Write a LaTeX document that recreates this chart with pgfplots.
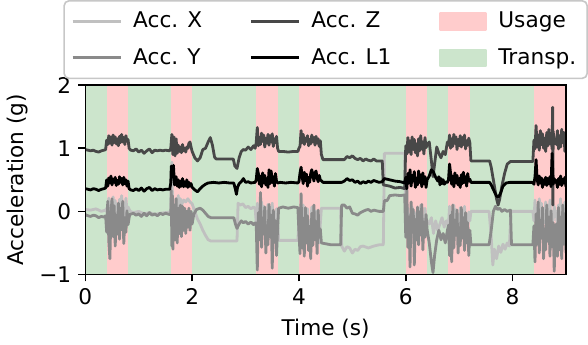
\documentclass[border=0pt]{standalone}
\usepackage{fontspec}
\setmainfont{DejaVu Sans}
\usepackage{pgfplots}
\pgfplotsset{compat=1.18}

\definecolor{usage}{RGB}{255,204,204}
\definecolor{transp}{RGB}{204,229,204}
\definecolor{accx}{RGB}{192,192,192}
\definecolor{accy}{RGB}{138,138,138}
\definecolor{accz}{RGB}{72,72,72}

\begin{document}
\begin{tikzpicture}[font=\fontsize{10.8}{13}\selectfont]
\begin{axis}[
  scale only axis,
  width=240pt, height=94.5pt,
  xmin=0, xmax=9, ymin=-1, ymax=2,
  xtick={0,2,4,6,8}, xticklabels={0,2,4,6,8},
  ytick={-1,0,1,2}, yticklabels={−1,0,1,2},
  tick align=outside, tick pos=left,
  major tick length=3.5pt,
  every tick/.style={black, line width=0.8pt},
  axis line style={line width=0.8pt},
  xlabel={Time (s)}, ylabel={Acceleration (g)},
  ylabel shift=-1pt,
  axis on top,
  every axis plot/.append style={line width=1.4pt, line join=round},
  legend image code/.code={\draw[#1] (0pt,0pt) -- (24pt,0pt);},
  legend columns=3,
  legend cell align=left,
  legend style={
    at={(0.5,1)}, anchor=south, yshift=3pt,
    draw=black!22, line width=0.8pt, rounded corners=2.5pt, fill=white,
    inner xsep=3.5pt, inner ysep=3.5pt, row sep=5pt,
    /tikz/every odd column/.append style={column sep=3.5pt},
    /tikz/every even column/.append style={column sep=21.5pt},
  },
]
% legend, filled column by column as in the original
\addlegendimage{accx, line width=1.5pt}
\addlegendentry{Acc. X}
\addlegendimage{accz, line width=1.5pt}
\addlegendentry{Acc. Z}
\addlegendimage{legend image code/.code={\fill[usage, sharp corners] (0pt,-4pt) rectangle (23pt,4pt);}}
\addlegendentry{Usage}
\addlegendimage{accy, line width=1.5pt}
\addlegendentry{Acc. Y}
\addlegendimage{black, line width=1.5pt}
\addlegendentry{Acc. L1}
\addlegendimage{legend image code/.code={\fill[transp, sharp corners] (0pt,-4pt) rectangle (23pt,4pt);}}
\addlegendentry{Transp.}

% background phases
\addplot[fill=transp, draw=none, forget plot] coordinates {(0,-1) (0,2) (9,2) (9,-1)} -- cycle;
\addplot[fill=usage, draw=none, forget plot] coordinates {(0.4,-1) (0.4,2) (0.8,2) (0.8,-1)} -- cycle;
\addplot[fill=usage, draw=none, forget plot] coordinates {(1.6,-1) (1.6,2) (2.0,2) (2.0,-1)} -- cycle;
\addplot[fill=usage, draw=none, forget plot] coordinates {(3.2,-1) (3.2,2) (3.6,2) (3.6,-1)} -- cycle;
\addplot[fill=usage, draw=none, forget plot] coordinates {(4.0,-1) (4.0,2) (4.4,2) (4.4,-1)} -- cycle;
\addplot[fill=usage, draw=none, forget plot] coordinates {(6.0,-1) (6.0,2) (6.4,2) (6.4,-1)} -- cycle;
\addplot[fill=usage, draw=none, forget plot] coordinates {(6.8,-1) (6.8,2) (7.2,2) (7.2,-1)} -- cycle;
\addplot[fill=usage, draw=none, forget plot] coordinates {(8.4,-1) (8.4,2) (9.0,2) (9.0,-1)} -- cycle;

% Acc. X
\addplot[accx, forget plot] coordinates {
(0,0.03)(0.1,0.02)(0.2,0.04)(0.3,0.0)(0.38,0.02)
(0.40,0.05)(0.42,-0.11)(0.44,0.21)(0.46,-0.07)(0.48,0.15)(0.50,-0.13)(0.52,0.23)(0.54,-0.03)(0.56,0.17)(0.58,-0.09)(0.60,0.09)(0.62,-0.15)(0.64,0.19)(0.66,-0.05)(0.68,0.25)(0.70,-0.01)(0.72,0.13)(0.74,-0.11)(0.76,0.21)(0.78,0.01)(0.80,0.07)
(0.84,0.0)(0.9,-0.02)(1.0,0.0)(1.1,-0.04)(1.2,-0.02)(1.3,-0.05)(1.4,-0.03)(1.5,-0.02)(1.58,-0.01)
(1.60,0.0)(1.61,0.55)(1.62,0.78)(1.63,0.3)(1.64,-0.45)(1.66,0.1)(1.68,-0.3)(1.70,0.2)(1.72,-0.1)(1.74,0.25)(1.76,0.0)(1.78,0.2)(1.80,0.1)(1.84,0.18)(1.88,0.15)(1.92,0.2)(1.96,0.15)(2.00,0.12)
(2.05,0.0)(2.1,-0.12)(2.15,-0.2)(2.2,-0.3)(2.25,-0.38)(2.3,-0.45)(2.35,-0.47)(2.84,-0.47)(2.86,0.13)(2.9,0.1)(2.95,0.12)(3.0,0.06)(3.05,0.08)(3.1,0.04)(3.15,0.07)(3.18,0.04)
(3.20,-0.17)(3.22,0.13)(3.24,-0.26)(3.26,0.02)(3.28,-0.21)(3.30,0.15)(3.32,-0.12)(3.34,0.08)(3.36,-0.3)(3.38,-0.01)(3.40,-0.19)(3.42,0.11)(3.44,-0.23)(3.46,0.06)(3.48,-0.14)(3.50,0.13)(3.52,-0.28)(3.54,-0.03)(3.56,-0.17)(3.58,0.04)(3.60,-0.1)
(3.62,-0.46)(3.8,-0.46)(3.98,-0.46)
(4.00,-0.14)(4.02,-0.5)(4.04,-0.02)(4.06,-0.32)(4.08,0.1)(4.10,-0.41)(4.12,-0.08)(4.14,-0.26)(4.16,0.04)(4.18,-0.47)(4.20,-0.17)(4.22,-0.38)(4.24,0.07)(4.26,-0.29)(4.28,-0.05)(4.30,-0.44)(4.32,0.01)(4.34,-0.35)(4.36,-0.11)(4.38,-0.5)(4.40,-0.2)
(4.42,0.05)(4.6,0.05)(4.78,0.05)(4.8,-0.55)(4.85,-0.63)(4.9,-0.56)(4.95,-0.58)(5.0,-0.66)(5.05,-0.6)(5.1,-0.62)(5.15,-0.56)(5.2,-0.55)(5.3,-0.58)(5.4,-0.55)(5.5,-0.53)(5.58,-0.53)(5.6,0.92)(5.8,0.92)(5.98,0.92)
(6.00,-0.18)(6.02,-0.4)(6.04,0.05)(6.06,-0.34)(6.08,-0.04)(6.10,-0.42)(6.12,0.07)(6.14,-0.29)(6.16,-0.01)(6.18,-0.37)(6.20,-0.12)(6.22,-0.45)(6.24,0.02)(6.26,-0.31)(6.28,0.1)(6.30,-0.26)(6.32,-0.07)(6.34,-0.4)(6.36,0.05)(6.38,-0.23)(6.40,-0.15)
(6.44,-0.2)(6.48,-0.1)(6.52,-0.35)(6.56,-0.15)(6.6,-0.3)(6.64,-0.2)(6.68,-0.1)(6.72,-0.25)(6.76,-0.15)
(6.80,-0.22)(6.82,0.08)(6.84,-0.31)(6.86,-0.04)(6.88,-0.26)(6.90,0.1)(6.92,-0.17)(6.94,0.03)(6.96,-0.35)(6.98,-0.06)(7.00,-0.24)(7.02,0.06)(7.04,-0.28)(7.06,0.01)(7.08,-0.19)(7.10,0.08)(7.12,-0.33)(7.14,-0.08)(7.16,-0.22)(7.18,-0.01)(7.20,-0.15)
(7.22,0.0)(7.56,0.0)(7.6,-0.4)(7.63,-0.85)(7.66,-0.6)(7.7,-0.75)(7.74,-0.55)(7.78,-0.65)(7.82,-0.52)(7.86,-0.6)(7.9,-0.5)(7.94,-0.55)(7.97,0.0)(8.38,0.0)
(8.40,-0.15)(8.42,0.18)(8.44,-0.25)(8.46,0.05)(8.48,-0.2)(8.50,0.2)(8.52,-0.1)(8.54,0.13)(8.56,-0.3)(8.58,0.03)(8.60,-0.18)(8.62,0.15)(8.64,-0.23)(8.66,0.1)(8.68,-0.13)(8.70,0.18)(8.72,-0.28)(8.74,0.0)(8.76,-0.15)(8.78,0.08)(8.80,-0.08)(8.82,0.0)(8.84,-0.3)(8.86,0.1)(8.88,-0.15)(8.90,0.2)(8.92,-0.23)(8.94,0.05)(8.96,-0.1)(8.98,0.15)(9.00,-0.28)
};

% Acc. Y
\addplot[accy, forget plot] coordinates {
(0,-0.05)(0.05,-0.07)(0.1,-0.08)(0.15,-0.06)(0.2,-0.07)(0.25,-0.1)(0.3,-0.08)(0.35,-0.09)(0.38,-0.07)
(0.40,-0.33)(0.42,0.16)(0.44,-0.48)(0.46,-0.75)(0.48,-0.03)(0.50,0.2)(0.52,-0.4)(0.54,0.09)(0.56,-0.55)(0.58,-0.06)(0.60,-0.36)(0.62,0.13)(0.64,-0.44)(0.66,0.05)(0.68,-0.29)(0.70,0.16)(0.72,-0.51)(0.74,-0.1)(0.76,-0.33)(0.78,0.01)(0.80,-0.21)
(0.83,-0.05)(0.9,-0.03)(0.95,-0.06)(1.0,-0.04)(1.05,-0.08)(1.1,-0.03)(1.15,-0.07)(1.2,-0.02)(1.25,-0.06)(1.3,-0.04)(1.35,-0.07)(1.4,-0.03)(1.45,-0.05)(1.5,-0.03)(1.58,-0.05)
(1.60,-0.05)(1.61,0.33)(1.62,-0.55)(1.63,0.25)(1.64,-0.6)(1.66,0.1)(1.68,-0.45)(1.70,0.2)(1.72,-0.5)(1.74,0.05)(1.76,-0.35)(1.78,0.1)(1.80,-0.4)(1.82,0.08)(1.84,-0.3)(1.86,0.05)(1.88,-0.35)(1.90,0.0)(1.92,-0.25)(1.94,0.05)(1.96,-0.3)(1.98,0.0)(2.00,-0.2)
(2.03,-0.05)(2.08,0.03)(2.15,0.05)(2.2,0.02)(2.25,-0.03)(2.3,-0.08)(2.35,-0.1)(2.78,-0.1)(2.81,-0.2)(2.84,-0.27)(2.88,-0.2)(2.92,-0.15)(2.96,-0.18)(3.0,-0.16)(3.05,-0.2)(3.1,-0.17)(3.15,-0.21)(3.18,-0.18)
(3.20,-0.19)(3.22,-0.93)(3.24,-0.02)(3.26,-0.45)(3.28,0.3)(3.30,-0.57)(3.32,-0.11)(3.34,-0.36)(3.36,0.07)(3.38,-0.66)(3.40,-0.23)(3.42,-0.53)(3.44,0.11)(3.46,-0.4)(3.48,-0.06)(3.50,-0.9)(3.52,0.02)(3.54,-0.49)(3.56,-0.15)(3.58,-0.7)(3.60,-0.28)
(3.62,0.05)(3.7,0.07)(3.8,0.05)(3.9,0.07)(3.98,0.06)
(4.00,-0.33)(4.02,-0.67)(4.04,0.28)(4.06,-0.58)(4.08,-0.11)(4.10,-0.71)(4.12,0.06)(4.14,-0.5)(4.16,-0.07)(4.18,-0.62)(4.20,-0.24)(4.22,-0.75)(4.24,-0.03)(4.26,-0.54)(4.28,0.1)(4.30,-0.45)(4.32,-0.16)(4.34,-0.67)(4.36,0.02)(4.38,-0.41)(4.40,-0.28)
(4.42,-0.5)(4.6,-0.53)(4.78,-0.53)(4.8,0.1)(4.85,0.1)(4.9,0.05)(4.95,0.07)(5.0,-0.03)(5.05,-0.04)(5.1,-0.06)(5.15,-0.02)(5.2,0.0)(5.25,0.02)(5.3,0.03)(5.35,0.0)(5.4,0.02)(5.5,0.0)(5.58,0.0)(5.6,0.17)(5.65,0.17)(5.7,0.25)(5.8,0.26)(5.9,0.25)(5.98,0.26)
(6.00,-0.41)(6.02,0.35)(6.04,-0.57)(6.06,-0.09)(6.08,-0.88)(6.10,0.15)(6.12,-0.33)(6.14,0.03)(6.16,-0.85)(6.18,-0.13)(6.20,-0.45)(6.22,0.07)(6.24,-0.53)(6.26,-0.01)(6.28,-0.37)(6.30,0.11)(6.32,-0.61)(6.34,-0.17)(6.36,-0.41)(6.38,-0.05)(6.40,-0.29)
(6.44,-0.5)(6.48,-0.8)(6.51,-0.97)(6.54,-0.7)(6.58,-0.45)(6.62,-0.3)(6.66,-0.45)(6.7,-0.35)(6.74,-0.5)(6.78,-0.3)
(6.80,-0.22)(6.82,-0.7)(6.84,-0.06)(6.86,-0.8)(6.88,0.1)(6.90,-0.58)(6.92,-0.14)(6.94,-0.38)(6.96,0.02)(6.98,-0.66)(7.00,-0.26)(7.02,-0.54)(7.04,0.06)(7.06,-0.42)(7.08,-0.1)(7.10,-0.62)(7.12,-0.02)(7.14,-0.5)(7.16,-0.18)(7.18,-0.7)(7.20,-0.3)
(7.22,-0.53)(7.56,-0.53)(7.6,-0.3)(7.64,0.0)(7.68,0.08)(7.72,0.03)(7.76,0.05)(7.8,0.0)(7.85,0.03)(7.9,0.0)(7.96,0.02)(7.98,-0.53)(8.38,-0.53)
(8.40,-0.23)(8.42,-0.8)(8.44,-0.04)(8.46,-0.52)(8.48,0.15)(8.50,-0.66)(8.52,-0.14)(8.54,-0.42)(8.56,0.06)(8.58,-0.75)(8.60,-0.28)(8.62,-0.61)(8.64,0.1)(8.66,-0.47)(8.68,-0.09)(8.70,-0.71)(8.72,0.01)(8.74,-0.56)(8.76,-0.18)(8.78,-0.95)(8.80,-0.33)(8.82,-0.2)(8.84,-0.71)(8.86,0.06)(8.88,-0.61)(8.90,-0.09)(8.92,-0.75)(8.94,0.1)(8.96,-0.52)(8.98,-0.04)(9.00,-0.66)
};

% Acc. Z
\addplot[accz, forget plot] coordinates {
(0,0.98)(0.05,0.97)(0.1,0.96)(0.15,0.97)(0.2,0.95)(0.25,0.94)(0.3,0.96)(0.35,0.97)(0.38,0.98)
(0.40,1.13)(0.42,1.06)(0.44,1.2)(0.46,1.08)(0.48,1.18)(0.50,1.05)(0.52,1.21)(0.54,1.09)(0.56,1.18)(0.58,1.07)(0.60,1.15)(0.62,1.04)(0.64,1.19)(0.66,1.09)(0.68,1.22)(0.70,1.1)(0.72,1.17)(0.74,1.06)(0.76,1.2)(0.78,1.11)(0.80,1.14)
(0.82,1.0)(0.85,0.97)(0.9,0.96)(0.95,0.99)(1.0,0.94)(1.05,0.97)(1.1,0.92)(1.15,0.96)(1.2,0.99)(1.25,0.93)(1.3,0.97)(1.35,0.96)(1.4,0.97)(1.45,0.96)(1.5,0.97)(1.58,0.96)
(1.60,1.0)(1.62,1.22)(1.64,0.9)(1.66,1.18)(1.68,0.88)(1.70,1.15)(1.72,0.92)(1.74,1.05)(1.76,0.95)(1.78,1.02)(1.80,0.93)(1.82,1.06)(1.84,0.96)(1.86,1.0)(1.88,0.94)(1.90,1.02)(1.92,1.0)(1.94,1.08)(1.96,1.1)(1.98,1.02)(2.00,0.95)
(2.05,0.85)(2.1,0.8)(2.15,0.85)(2.2,0.98)(2.25,1.0)(2.3,1.1)(2.34,1.17)(2.38,1.05)(2.42,0.86)(2.45,0.83)(2.77,0.83)(2.8,0.72)(2.84,0.68)(2.88,0.85)(2.92,0.95)(2.96,0.98)(3.0,0.97)(3.05,1.02)(3.1,0.98)(3.15,1.04)(3.18,1.0)
(3.20,1.09)(3.22,1.33)(3.24,1.04)(3.26,1.17)(3.28,1.06)(3.30,1.24)(3.32,1.11)(3.34,1.21)(3.36,1.02)(3.38,1.16)(3.40,1.08)(3.42,1.22)(3.44,1.05)(3.46,1.2)(3.48,1.1)(3.50,1.23)(3.52,1.03)(3.54,1.15)(3.56,1.09)(3.58,1.19)(3.60,1.0)
(3.62,0.95)(3.7,0.95)(3.8,0.94)(3.9,0.95)(3.98,0.95)
(4.00,1.0)(4.02,1.03)(4.04,1.28)(4.06,1.09)(4.08,1.22)(4.10,1.06)(4.12,1.16)(4.14,1.11)(4.16,1.2)(4.18,1.04)(4.20,1.14)(4.22,1.07)(4.24,1.21)(4.26,1.1)(4.28,1.17)(4.30,1.05)(4.32,1.19)(4.34,1.08)(4.36,1.15)(4.38,1.03)(4.40,1.12)
(4.42,0.9)(4.45,0.82)(4.85,0.82)(4.9,0.87)(4.95,0.85)(5.0,0.88)(5.05,0.84)(5.1,0.82)(5.15,0.84)(5.2,0.8)(5.25,0.83)(5.3,0.81)(5.35,0.8)(5.4,0.83)(5.45,0.8)(5.5,0.8)(5.56,0.8)(5.58,0.42)(5.7,0.4)(5.8,0.37)(5.9,0.38)(5.98,0.36)
(6.00,1.04)(6.02,0.91)(6.04,1.17)(6.06,0.94)(6.08,1.12)(6.10,0.9)(6.12,1.18)(6.14,0.98)(6.16,1.14)(6.18,0.93)(6.20,1.07)(6.22,0.88)(6.24,1.15)(6.26,0.96)(6.28,1.2)(6.30,0.99)(6.32,1.1)(6.34,0.91)(6.36,1.17)(6.38,1.01)(6.40,1.06)
(6.44,1.1)(6.48,0.8)(6.51,0.55)(6.54,0.75)(6.58,1.02)(6.62,0.92)(6.66,0.85)(6.7,0.95)(6.74,0.9)(6.78,1.1)
(6.80,1.05)(6.82,1.21)(6.84,1.0)(6.86,1.15)(6.88,1.03)(6.90,1.22)(6.92,1.08)(6.94,1.18)(6.96,0.98)(6.98,1.14)(7.00,1.04)(7.02,1.2)(7.04,1.02)(7.06,1.17)(7.08,1.06)(7.10,1.21)(7.12,0.99)(7.14,1.12)(7.16,1.05)(7.18,1.16)(7.20,1.09)
(7.22,0.8)(7.57,0.8)(7.6,0.7)(7.65,0.45)(7.7,0.2)(7.73,0.1)(7.76,0.2)(7.8,0.4)(7.85,0.6)(7.9,0.75)(7.96,0.79)(8.38,0.79)
(8.40,1.13)(8.42,0.99)(8.44,1.36)(8.46,1.02)(8.48,1.21)(8.50,0.97)(8.52,1.28)(8.54,1.06)(8.56,1.23)(8.58,1.0)(8.60,1.16)(8.62,0.95)(8.64,1.25)(8.66,1.04)(8.68,1.3)(8.70,1.07)(8.72,1.2)(8.74,0.99)(8.75,1.65)(8.755,0.1)(8.76,1.27)(8.78,1.09)(8.80,1.14)(8.82,1.06)(8.84,1.28)(8.86,0.99)(8.88,1.2)(8.90,1.02)(8.92,1.3)(8.94,1.09)(8.96,1.25)(8.98,0.95)(9.00,1.18)
};

% Acc. L1
\addplot[black, forget plot] coordinates {
(0,0.36)(0.05,0.35)(0.1,0.34)(0.15,0.36)(0.2,0.35)(0.25,0.33)(0.3,0.35)(0.35,0.36)(0.38,0.37)
(0.40,0.5)(0.42,0.4)(0.44,0.53)(0.46,0.45)(0.48,0.56)(0.50,0.42)(0.52,0.51)(0.54,0.46)(0.56,0.54)(0.58,0.41)(0.60,0.49)(0.62,0.43)(0.64,0.55)(0.66,0.46)(0.68,0.52)(0.70,0.42)(0.72,0.54)(0.74,0.44)(0.76,0.5)(0.78,0.4)(0.80,0.48)
(0.82,0.36)(0.85,0.34)(0.9,0.33)(0.95,0.36)(1.0,0.33)(1.05,0.37)(1.1,0.32)(1.15,0.36)(1.2,0.38)(1.25,0.33)(1.3,0.36)(1.35,0.34)(1.4,0.35)(1.45,0.34)(1.5,0.35)(1.58,0.35)
(1.60,0.45)(1.61,0.72)(1.63,0.6)(1.65,0.73)(1.67,0.42)(1.70,0.55)(1.72,0.4)(1.74,0.5)(1.76,0.38)(1.78,0.48)(1.80,0.4)(1.82,0.52)(1.84,0.39)(1.86,0.47)(1.88,0.4)(1.90,0.5)(1.92,0.38)(1.94,0.46)(1.96,0.4)(1.98,0.44)(2.00,0.38)
(2.05,0.34)(2.1,0.31)(2.15,0.36)(2.2,0.4)(2.25,0.43)(2.3,0.45)(2.4,0.46)(2.5,0.45)(2.6,0.46)(2.7,0.45)(2.78,0.45)(2.81,0.35)(2.83,0.27)(2.85,0.38)(2.88,0.44)(2.92,0.47)(2.96,0.52)(3.0,0.46)(3.05,0.47)(3.1,0.45)(3.18,0.46)
(3.20,0.5)(3.22,0.68)(3.24,0.6)(3.26,0.43)(3.28,0.56)(3.30,0.39)(3.32,0.61)(3.34,0.45)(3.36,0.57)(3.38,0.42)(3.40,0.52)(3.42,0.38)(3.44,0.66)(3.46,0.44)(3.48,0.64)(3.50,0.46)(3.52,0.55)(3.54,0.4)(3.56,0.6)(3.58,0.48)(3.60,0.45)
(3.65,0.46)(3.75,0.45)(3.85,0.46)(3.98,0.45)
(4.00,0.47)(4.02,0.61)(4.04,0.7)(4.06,0.55)(4.08,0.44)(4.10,0.62)(4.12,0.49)(4.14,0.59)(4.16,0.4)(4.18,0.54)(4.20,0.46)(4.22,0.6)(4.24,0.66)(4.26,0.58)(4.28,0.48)(4.30,0.61)(4.32,0.64)(4.34,0.53)(4.36,0.47)(4.38,0.57)(4.40,0.5)
(4.45,0.46)(4.6,0.46)(4.8,0.46)(4.85,0.48)(4.9,0.52)(4.95,0.49)(5.0,0.5)(5.05,0.46)(5.1,0.48)(5.15,0.44)(5.2,0.47)(5.25,0.45)(5.3,0.48)(5.35,0.46)(5.4,0.49)(5.5,0.46)(5.56,0.47)(5.6,0.52)(5.7,0.5)(5.8,0.48)(5.9,0.47)(5.98,0.45)
(6.00,0.54)(6.02,0.36)(6.04,0.6)(6.06,0.45)(6.08,0.66)(6.10,0.4)(6.12,0.57)(6.14,0.48)(6.16,0.63)(6.18,0.38)(6.20,0.52)(6.22,0.42)(6.24,0.64)(6.26,0.46)(6.28,0.58)(6.30,0.39)(6.32,0.61)(6.34,0.44)(6.36,0.55)(6.38,0.38)(6.40,0.5)
(6.44,0.56)(6.48,0.66)(6.52,0.62)(6.56,0.54)(6.6,0.48)(6.62,0.55)(6.64,0.42)(6.66,0.52)(6.68,0.44)(6.7,0.5)(6.72,0.43)(6.76,0.47)(6.78,0.46)
(6.80,0.5)(6.82,0.75)(6.84,0.6)(6.86,0.43)(6.88,0.56)(6.90,0.39)(6.92,0.61)(6.94,0.45)(6.96,0.57)(6.98,0.42)(7.00,0.52)(7.02,0.38)(7.04,0.58)(7.06,0.44)(7.08,0.62)(7.10,0.46)(7.12,0.55)(7.14,0.4)(7.16,0.6)(7.18,0.48)(7.20,0.51)
(7.22,0.46)(7.57,0.46)(7.6,0.42)(7.65,0.33)(7.7,0.24)(7.74,0.23)(7.78,0.3)(7.82,0.4)(7.88,0.45)(7.95,0.46)(8.38,0.46)
(8.40,0.43)(8.42,0.55)(8.44,0.82)(8.46,0.51)(8.48,0.42)(8.50,0.56)(8.52,0.45)(8.54,0.53)(8.56,0.38)(8.58,0.5)(8.60,0.43)(8.62,0.54)(8.64,0.41)(8.66,0.52)(8.68,0.44)(8.70,0.55)(8.72,0.39)(8.74,0.92)(8.76,0.43)(8.78,0.52)(8.80,0.46)(8.82,0.49)(8.84,0.38)(8.86,0.52)(8.88,0.43)(8.90,0.56)(8.92,0.41)(8.94,0.51)(8.96,0.45)(8.98,0.54)(9.00,0.39)
};
\end{axis}
\end{tikzpicture}
\end{document}
